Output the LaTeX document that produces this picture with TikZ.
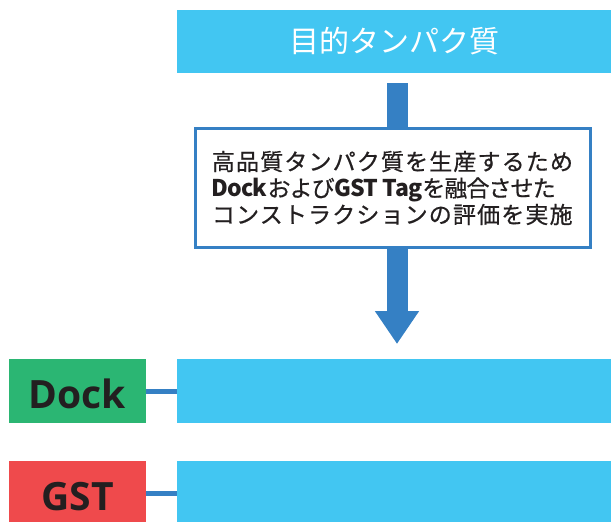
\documentclass[tikz,border=0pt]{standalone}
\usepackage{fontspec}
\usetikzlibrary{arrows.meta}
\newfontfamily\jpfont{Noto Sans CJK JP}
\newfontfamily\jpbody{Noto Sans CJK JP}[FakeBold=0.6,LetterSpace=5]
\newfontfamily\jptight{Noto Sans CJK JP}[FakeBold=0.6,LetterSpace=-4]
\newfontfamily\latinbody{Noto Sans CJK JP}[LetterSpace=-4]
\newcommand\lat[1]{{\latinbody\bfseries #1}}
\newfontfamily\tagfont{Open Sans}
\definecolor{barblue}{HTML}{42C6F2}
\definecolor{arrowblue}{HTML}{3580C4}
\definecolor{dockgreen}{HTML}{2BB673}
\definecolor{gstred}{HTML}{EF4A4C}
\definecolor{ink}{HTML}{231F20}

\begin{document}
\begin{tikzpicture}[x=1pt,y=-1pt,
    bar/.style={fill=barblue,inner sep=0pt,minimum width=434pt,minimum height=64pt},
    tag/.style={inner sep=0pt,minimum width=137pt,minimum height=64pt,text=ink,
      text height=34pt,text depth=0pt,
      font=\tagfont\bfseries\fontsize{39}{39}\selectfont}]
  \useasboundingbox (0,0) rectangle (611,522);
  \node[bar,minimum height=63pt,text=white,font=\jpfont\fontsize{30}{30}\selectfont]
    (target) at (394,41.5) {目的タンパク質};
  \coordinate (top) at (397,83);
  \coordinate (tip) at (397,344);
  \draw[arrowblue,line width=21pt,-{Triangle[length=33pt,width=42pt]}] (top) -- (tip);
  \node[draw=arrowblue,line width=3pt,fill=white,inner sep=0pt,
        minimum width=395pt,minimum height=119pt,align=left,text=ink,
        font=\jpbody\fontsize{23}{26.5}\selectfont]
    (eval) at (392.5,188)
    {高品質タンパク質を生産するため\\
     {\jptight\lat{Dock}および\lat{GST Tag}を融合させた}\\
     コンストラクションの評価を実施};
  % tags and bars
  \node[tag,fill=dockgreen] (dock) at (77.5,391) {Dock};
  \node[bar] (dockbar) at (394,391) {};
  \node[tag,fill=gstred] (gst) at (77.5,493) {GST};
  \node[bar] (gstbar) at (394,493) {};
  \draw[arrowblue,line width=5pt] (dock) -- (dockbar);
  \draw[arrowblue,line width=5pt] (gst) -- (gstbar);
\end{tikzpicture}
\end{document}
